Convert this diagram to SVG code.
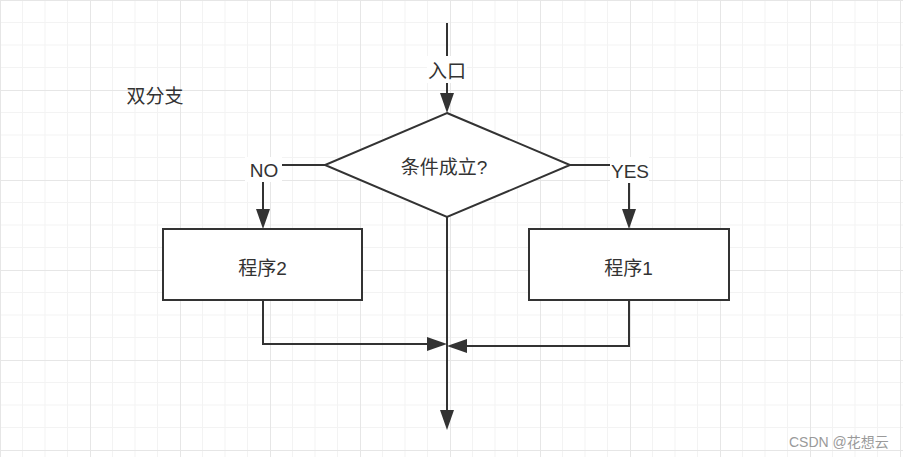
<svg xmlns="http://www.w3.org/2000/svg" width="903" height="457" viewBox="0 0 903 457">
<style>
.ln{fill:none;stroke:#333;stroke-width:2}
.box{fill:#fff;stroke:#333;stroke-width:2}
.t{font-family:"Liberation Sans","Noto Sans CJK SC",sans-serif;font-size:19px;fill:#333;text-anchor:middle;dominant-baseline:central}
.bg{fill:#fff}
.wm{font-family:"Liberation Sans","Noto Sans CJK SC",sans-serif;font-size:14px;fill:#9a9a9a;dominant-baseline:central}
</style>
<defs>
<pattern id="grid" width="90" height="90" patternUnits="userSpaceOnUse">
<path d="M22.5 0V90M45 0V90M67.5 0V90M0 22.5H90M0 45H90M0 67.5H90" fill="none" stroke="#f3f3f3" stroke-width="1"/>
<path d="M0.5 0V90M0 0.5H90" fill="none" stroke="#e6e6e6" stroke-width="1"/>
</pattern>
<marker id="arr" viewBox="0 0 20 14" refX="0" refY="7" markerWidth="20" markerHeight="14" markerUnits="userSpaceOnUse" orient="auto">
<path d="M0,0 L20,7 L0,14 z" fill="#333"/>
</marker>
</defs>
<rect width="903" height="457" fill="#fff"/>
<rect width="903" height="457" fill="url(#grid)"/>
<g id="connectors">
<path class="ln" d="M447 23V93" marker-end="url(#arr)"/>
<path class="ln" d="M325 165H263V209" marker-end="url(#arr)"/>
<path class="ln" d="M570 165H629V209" marker-end="url(#arr)"/>
<path class="ln" d="M447 217V410" marker-end="url(#arr)"/>
<path class="ln" d="M263 300V344H427" marker-end="url(#arr)"/>
<path class="ln" d="M629 300V346H467" marker-end="url(#arr)"/>
<g id="label-entry"><rect class="bg" x="427" y="56" width="40" height="27"/><text class="t" x="447" y="71">入口</text></g>
<g id="label-no"><rect class="bg" x="245" y="157" width="37" height="25"/><text class="t" x="264" y="170">NO</text></g>
<g id="label-yes"><rect class="bg" x="610" y="157" width="39" height="26"/><text class="t" x="630" y="171">YES</text></g>
</g>
<g id="title"><text class="t" x="155" y="96">双分支</text></g>
<g id="decision">
<polygon class="box" points="447,113 570,165 447,217 325,165"/>
<text class="t" x="444" y="167">条件成立?</text>
</g>
<g id="prog2">
<rect class="box" x="163" y="229" width="199" height="71"/>
<text class="t" x="262.5" y="268">程序2</text>
</g>
<g id="prog1">
<rect class="box" x="529" y="229" width="200" height="71"/>
<text class="t" x="628.5" y="268">程序1</text>
</g>
<text class="wm" x="789" y="442">CSDN @花想云</text>
</svg>
